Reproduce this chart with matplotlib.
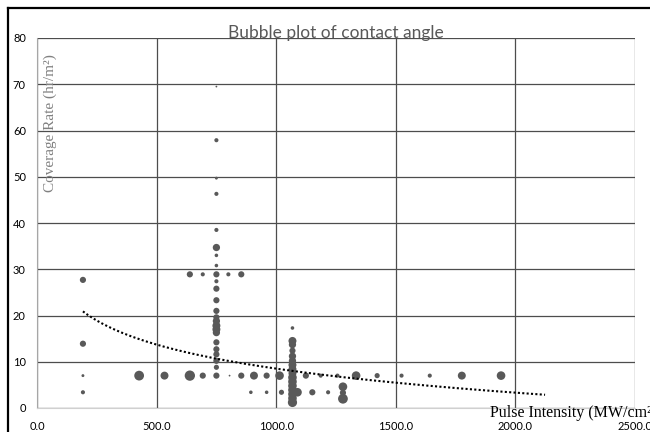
"""
Bubble plot of contact angle.

"""

import numpy as np
import matplotlib
matplotlib.use("Agg")
import matplotlib.pyplot as plt
from matplotlib.lines import Line2D


# pulse intensity (MW/cm2)
pulse_intensity = [
    192, 192, 192, 192,
    427, 533, 639, 693, 805, 854, 907, 960, 1014, 1124, 1186, 1256, 1334,
    1422, 1524, 1642, 1776, 1940,
    894, 960, 1022, 1089, 1151, 1217, 1279, 1279, 1279,
    639, 693, 800, 854,
] + [750] * 24 + [1068] * 16

# coverage rate (hr/m2)
coverage_rate = [
    27.7, 13.9, 7.0, 3.4,
    7.0, 7.0, 7.0, 7.0, 7.0, 7.0, 7.0, 7.0, 7.0, 7.0, 7.0, 7.0, 7.0,
    7.0, 7.0, 7.0, 7.0, 7.0,
    3.4, 3.4, 3.4, 3.4, 3.4, 3.4, 4.6, 3.3, 2.0,
    28.9, 28.9, 28.9, 28.9,
    # column at 750
    69.5, 57.9, 49.7, 46.3, 38.5, 34.7, 33.0, 30.8, 28.9, 27.4, 25.8, 23.3,
    21.0, 19.6, 18.8, 17.8, 17.0, 16.3, 14.2, 12.7, 11.6, 10.2, 8.8, 7.0,
    # column at 1068
    17.3, 14.5, 13.7, 12.4, 11.2, 10.2, 9.3, 8.4, 7.5, 6.6, 5.7, 4.8,
    3.9, 3.0, 2.1, 1.2,
]

# bubble size (contact angle)
contact_angle = [
    36, 36, 8, 16,
    90, 60, 100, 36, 3, 36, 60, 36, 70, 36, 16, 16, 70,
    25, 16, 16, 60, 70,
    12, 12, 25, 70, 36, 16, 70, 36, 90,
    36, 16, 16, 36,
    3, 16, 8, 16, 16, 50, 12, 12, 36, 16, 36, 36,
    36, 36, 50, 60, 60, 50, 36, 36, 36, 36, 25, 36,
    12, 60, 50, 36, 50, 50, 60, 60, 60, 70, 70, 70,
    70, 70, 70, 80,
]

# points
trend_x = [192, 750, 1070, 1500, 2124]
trend_y = [20.8, 10.9, 8.0, 5.4, 2.8]

x_ticks = [0, 500, 1000, 1500, 2000, 2500]
y_ticks = [0, 10, 20, 30, 40, 50, 60, 70, 80]


def plot_bubbles():

    fig = plt.figure(figsize=(6.5, 4.32), dpi=100)

    ax = fig.add_axes([37 / 650, 24 / 432, 598 / 650, 370 / 432])

    ax.scatter(
        pulse_intensity,
        coverage_rate,
        s=np.array(contact_angle) * 0.55,
        color="#595959",
        linewidths=0,
        zorder=3,
    )

    # logarithmic trend line
    b, a = np.polyfit(np.log(trend_x), trend_y, 1)
    tx = np.linspace(trend_x[0], trend_x[-1], 200)
    ax.plot(
        tx,
        a + b * np.log(tx),
        color="black",
        linestyle=(0, (1, 1.1)),
        linewidth=1.5,
        zorder=4,
    )

    ax.set_xlim(0, 2500)
    ax.set_ylim(0, 80)
    ax.set_xticks(x_ticks)
    ax.set_yticks(y_ticks)
    ax.set_xticklabels(["%.1f" % v for v in x_ticks])
    ax.grid(True, color="#4d4d4d", linewidth=0.9)
    ax.set_axisbelow(True)

    ax.tick_params(length=0, labelsize=8, colors="black")
    ax.tick_params(axis="x", pad=9)
    ax.tick_params(axis="y", pad=8)
    for lab in ax.get_xticklabels() + ax.get_yticklabels():
        lab.set_family("Lato")

    for side in ["top", "right"]:
        ax.spines[side].set_visible(False)
    ax.spines["left"].set_color("#a6a6a6")
    ax.spines["bottom"].set_color("#d0d0d0")

    ax.text(
        0.5, 1.0,
        "Bubble plot of contact angle",
        transform=ax.transAxes,
        ha="center",
        va="baseline",
        family="Lato",
        fontsize=12.5,
        color="#595959",
    )

    fig.text(
        50 / 650, 1 - 123 / 432,
        "Coverage Rate (hr/m²)",
        rotation=90,
        ha="center",
        va="center",
        family="Liberation Serif",
        fontsize=11,
        color="#808080",
    )

    fig.text(
        490 / 650, 1 - 417 / 432,
        "Pulse Intensity (MW/cm²)",
        ha="left",
        va="baseline",
        family="Liberation Serif",
        fontsize=11.5,
        color="black",
    )

    # black frame of the screenshot
    fig.add_artist(Line2D([8 / 650, 8 / 650], [0, 1 - 8 / 432],
                          color="black", linewidth=1.6))
    fig.add_artist(Line2D([8 / 650, 1], [1 - 8 / 432, 1 - 8 / 432],
                          color="black", linewidth=1.6))

    fig.savefig("out.png", dpi=100)


plot_bubbles()
